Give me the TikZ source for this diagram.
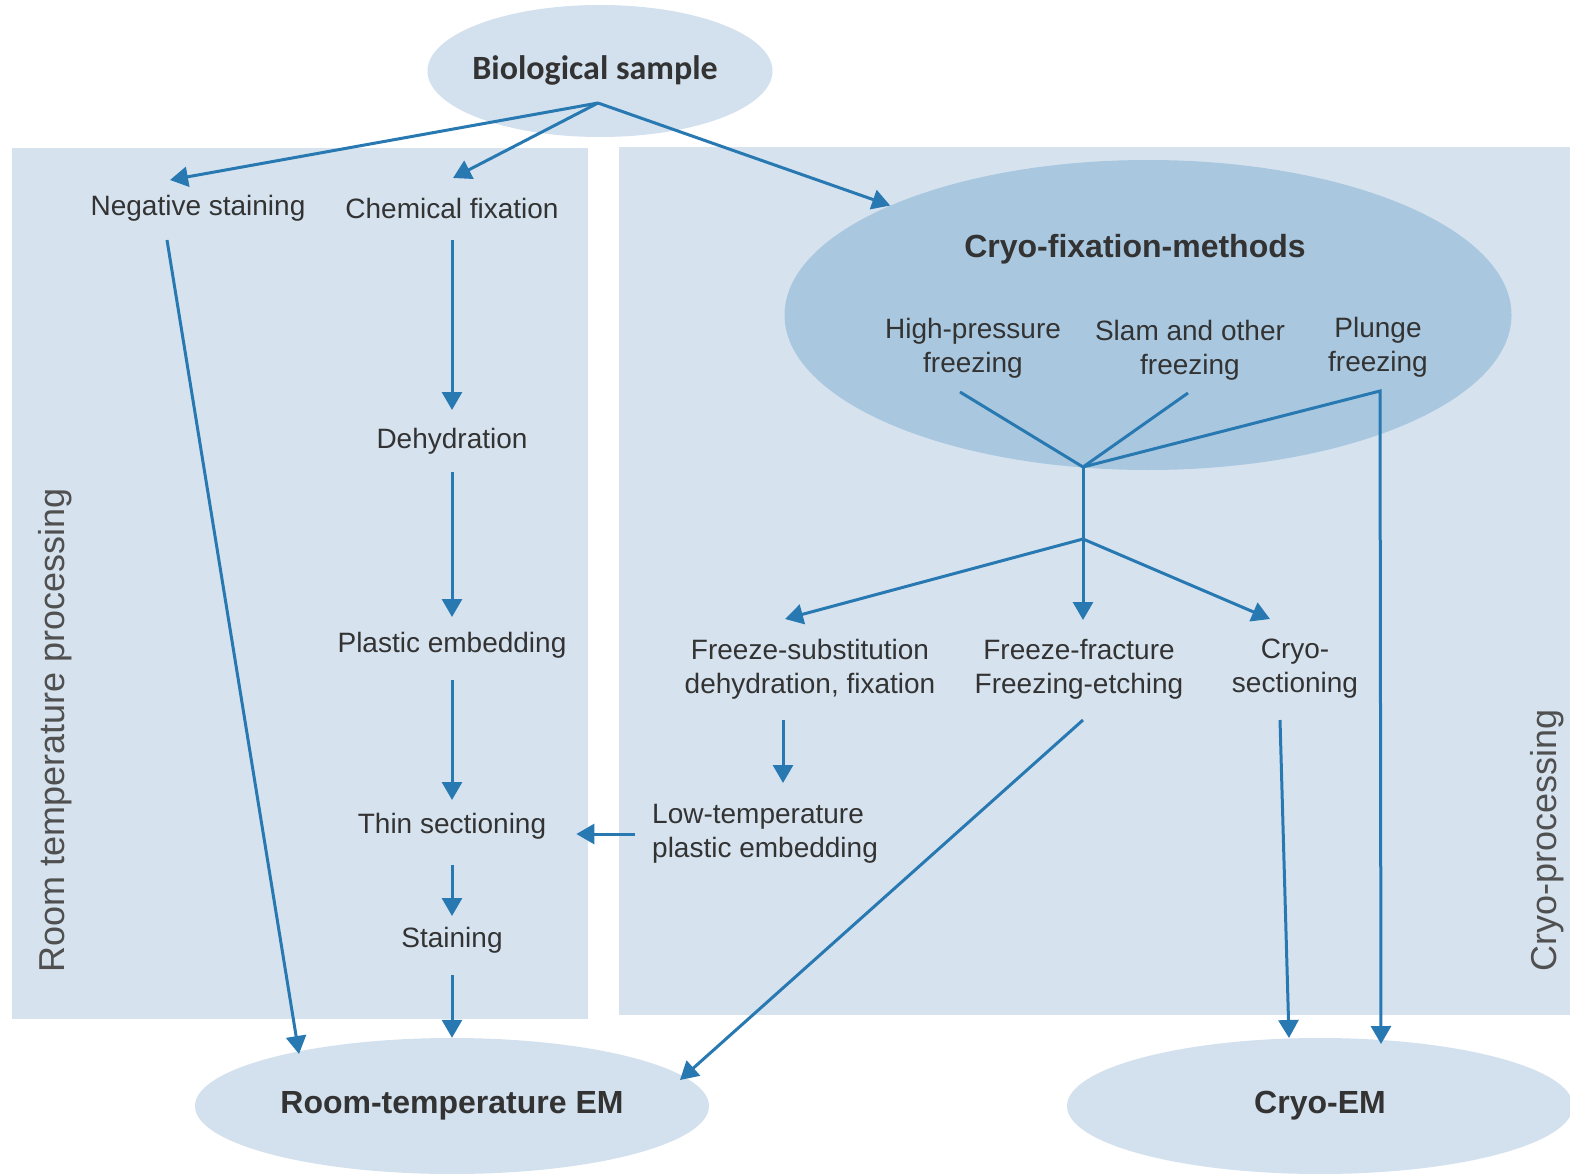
\documentclass[tikz,border=0pt]{standalone}
\usepackage{fontspec}
\setmainfont{Liberation Sans}
\newfontfamily\calfont{Carlito}
\usetikzlibrary{arrows.meta,calc,shapes.geometric}
\definecolor{panel}{HTML}{D6E3EF}
\definecolor{ell}{HTML}{D3E1EE}
\definecolor{cryoell}{HTML}{A9C8DF}
\definecolor{arrc}{HTML}{2879B2}
\definecolor{txt}{HTML}{333333}
\definecolor{sidetxt}{HTML}{505050}
\begin{document}
\begin{tikzpicture}[x=1pt,y=-1pt,
  lbl/.style={text=txt,font=\fontsize{28}{34}\selectfont,align=center,inner sep=0pt},
  blbl/.style={text=txt,font=\fontsize{32}{38}\selectfont\bfseries,align=center,inner sep=0pt},
  sidelbl/.style={text=sidetxt,font=\fontsize{36}{40}\selectfont,rotate=90,inner sep=0pt},
  arrow/.style={draw=arrc,line width=3pt,-{Triangle[length=18pt,width=20pt]}},
  link/.style={draw=arrc,line width=3pt},
  ell/.style={ellipse,inner sep=0pt}
  ]
\useasboundingbox (0,0) rectangle (1570,1174);
\fill[white] (0,0) rectangle (1570,1174);
% panels
\fill[panel] (12,148) rectangle (588,1019);
\fill[panel] (619,147) rectangle (1570,1015);
% ellipses
\node[ell,fill=ell,minimum width=345pt,minimum height=132pt] (bio) at (600,71) {};
\node[text=txt,font=\calfont\bfseries\fontsize{34}{40}\selectfont,inner sep=0pt] (biot) at (595,70) {Biological sample};
\node[ell,fill=cryoell,minimum width=727pt,minimum height=310pt] (cryofix) at (1148,315) {};
\node[ell,fill=ell,minimum width=514pt,minimum height=136pt,blbl] (roomem) at (452,1106) {Room-temperature EM};
\node[ell,fill=ell,minimum width=506pt,minimum height=136pt,blbl] (cryoem) at (1320,1106) {Cryo-EM};
% labels
\node[lbl] (negstain) at (198,208) {Negative staining};
\node[lbl] (chem) at (452,208) {Chemical fixation};
\node[lbl] (dehyd) at (452,441) {Dehydration};
\node[lbl] (plastic) at (452,645) {Plastic embedding};
\node[lbl] (thin) at (452,826) {Thin sectioning};
\node[lbl] (stain) at (452,940) {Staining};
\node[blbl] (cryotitle) at (1135,249) {Cryo-fixation-methods};
\node[lbl] (hpf) at (973,348) {High-pressure\\freezing};
\node[lbl] (slam) at (1190,350) {Slam and other\\freezing};
\node[lbl] (plunge) at (1378,347) {Plunge\\freezing};
\node[lbl] (fsub) at (810,669) {Freeze-substitution\\dehydration, fixation};
\node[lbl] (ffrac) at (1079,669) {Freeze-fracture\\Freezing-etching};
\node[lbl] (csec) at (1295,669) {Cryo-\\sectioning};
\node[lbl,align=left,anchor=west] (lowtemp) at (652,834) {Low-temperature\\plastic embedding};
\node[sidelbl] (rtp) at (55,730) {Room temperature processing};
\node[sidelbl] (cp) at (1547,840) {Cryo-processing};
% junctions
\coordinate (bo) at ($(bio)+(-2,32)$);
\coordinate (J) at ($(cryofix)+(-65,152)$);
\coordinate (K) at ($(J)+(0,72)$);
\coordinate (pc) at ($(plunge)+(2,44)$);
% arrows from biological sample
\draw[arrow] (bo) -- ($(negstain)+(-28,-28)$);
\draw[arrow] (bo) -- ($(chem)+(1,-30)$);
\draw[arrow] (bo) -- (cryofix.157);
% room temperature chain
\draw[arrow] ($(negstain)+(-31,32)$) -- ($(roomem)+(-153,-52)$);
\draw[arrow] ($(chem)+(0,32)$) -- ($(dehyd)+(0,-31)$);
\draw[arrow] ($(dehyd)+(0,31)$) -- ($(plastic)+(0,-28)$);
\draw[arrow] ($(plastic)+(0,35)$) -- ($(thin)+(0,-26)$);
\draw[arrow] ($(thin)+(0,39)$) -- ($(stain)+(0,-24)$);
\draw[arrow] ($(stain)+(0,35)$) -- (roomem.north);
\draw[arrow] ($(lowtemp.west)+(-17,0)$) -- ($(thin.east |- lowtemp.west)+(30,0)$);
% cryo branch
\draw[link] ($(hpf)+(-13,44)$) -- (J);
\draw[link] ($(slam)+(-2,43)$) -- (J);
\draw[arrow] (J) -- (pc) -- ($(cryoem)+(61,-62)$);
\draw[link] (J) -- (K);
\draw[arrow] (K) -- ($(ffrac)+(4,-49)$);
\draw[arrow] (K) -- ($(fsub)+(-25,-50)$);
\draw[arrow] (K) -- ($(csec)+(-25,-50)$);
\draw[arrow] ($(fsub)+(-27,51)$) -- ($(lowtemp.west)+(131,-51)$);
\draw[arrow] ($(ffrac)+(4,51)$) -- ($(roomem)+(228,-26)$);
\draw[arrow] ($(csec)+(-15,51)$) -- ($(cryoem)+(-31,-68)$);
\end{tikzpicture}
\end{document}
